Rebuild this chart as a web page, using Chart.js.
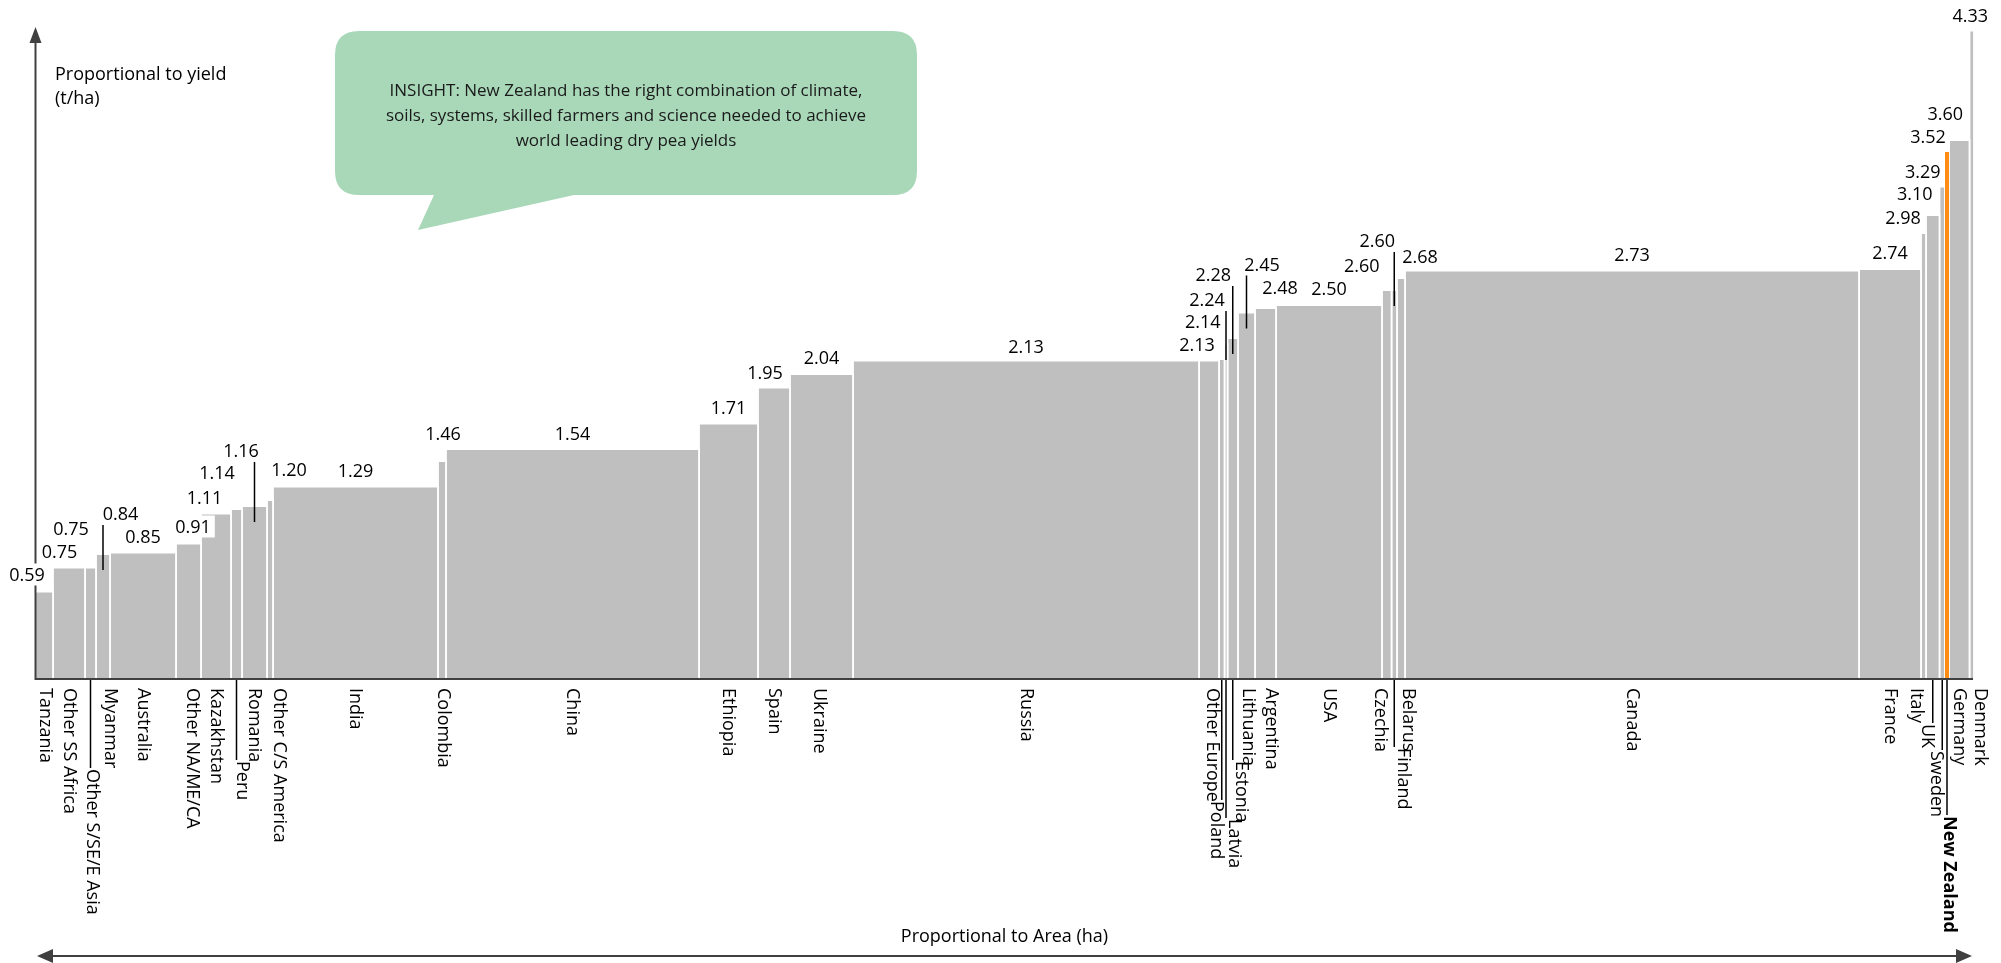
<!DOCTYPE html>
<html>
<head>
<meta charset="utf-8">
<script src="https://cdn.jsdelivr.net/npm/chart.js@4.4.1/dist/chart.umd.min.js"></script>
<style>
  html, body { margin: 0; padding: 0; background: #fff; }
  canvas { display: block; }
</style>
</head>
<body>
<canvas id="pea_chart" width="2001" height="963"></canvas>
<script>
// dry pea yield (t/ha) vs relative harvested area, sorted by yield
const countries = ['Tanzania', 'Other SS Africa', 'Other S/SE/E Asia', 'Myanmar', 'Australia', 'Other NA/ME/CA',
    'Kazakhstan', 'Peru', 'Romania', 'Other C/S America', 'India', 'Colombia', 'China', 'Ethiopia', 'Spain',
    'Ukraine', 'Russia', 'Other Europe', 'Poland', 'Latvia', 'Estonia', 'Lithuania', 'Argentina', 'USA',
    'Czechia', 'Finland', 'Belarus', 'Canada', 'France', 'Italy', 'UK', 'Sweden', 'New Zealand', 'Germany', 'Denmark'];
const yields = [0.59, 0.75, 0.75, 0.84, 0.85, 0.91, 1.11, 1.14, 1.16, 1.20, 1.29, 1.46, 1.54, 1.71, 1.95,
    2.04, 2.13, 2.13, 2.14, 2.24, 2.28, 2.45, 2.48, 2.50, 2.60, 2.60, 2.68, 2.73, 2.74, 2.98, 3.10, 3.29, 3.52, 3.60, 4.33];
const areas = [18, 32, 11, 14, 66, 25, 30, 11, 25, 6, 165, 8, 253, 59, 32, 63, 346, 20, 5.5, 3, 10.5, 17, 21, 106,
    9.5, 5.5, 8, 454, 62, 5, 13.5, 5.5, 4, 20.5, 4.5];
const highlight = 'New Zealand';

const yTitle = ['Proportional to yield', '(t/ha)'];
const xTitle = 'Proportional to Area (ha)';
const insight = ['INSIGHT: New Zealand has the right combination of climate,',
    'soils, systems, skilled farmers and science needed to achieve',
    'world leading dry pea yields'];

const FONT = '"Open Sans", Lato, sans-serif';
const GREY = '#bfbfbf';
const ORANGE = '#ff8c14';
const AXIS = '#404040';

// label placement tweaks (px): value labels [dx, dy, leader], country labels [dx, drop]
const valuePos = {
    'Tanzania': [-17, -17], 'Other SS Africa': [-9.5, -16], 'Other S/SE/E Asia': [-19.5, -39],
    'Myanmar': [17.5, -40, true], 'Other NA/ME/CA': [4.5, -17], 'Kazakhstan': [-11.5, -16],
    'Peru': [-19.5, -36], 'Romania': [-13.5, -55, true], 'Other C/S America': [19, -30],
    'Colombia': [1, -27], 'China': [0, -15], 'Spain': [-9, -15], 'Russia': [0, -14],
    'Other Europe': [-12, -16], 'Poland': [-19, -37], 'Latvia': [-19, -44, true],
    'Estonia': [-19.5, -63, true], 'Lithuania': [15.5, -48, true], 'Argentina': [14.5, -20],
    'Czechia': [-25, -24], 'Finland': [-17, -49, true], 'Belarus': [19, -21],
    'Italy': [-20.5, -15], 'UK': [-18, -21], 'Sweden': [-19.5, -15], 'New Zealand': [-19, -15],
    'Germany': [-14, -26], 'Denmark': [-1.5, -15]
};
const namePos = {
    'Tanzania': [1.5], 'Other S/SE/E Asia': [2, 88], 'Myanmar': [7], 'Other NA/ME/CA': [3.5],
    'Peru': [6, 80], 'Other C/S America': [9], 'Colombia': [1.5], 'Ukraine': [-2], 'Other Europe': [3],
    'Poland': [-6, 120], 'Latvia': [8, 138], 'Estonia': [8, 80], 'Lithuania': [2], 'Argentina': [6],
    'Czechia': [-7], 'Finland': [9, 67], 'Belarus': [7], 'Italy': [-7], 'UK': [-6, 43],
    'Sweden': [-6, 70], 'New Zealand': [2, 135], 'Denmark': [8]
};

let starts = [];
let total = 0;
for (const a of areas) {
    starts.push(total);
    total += a;
}

const datasets = countries.map((name, i) => {
    const x0 = starts[i];
    const x1 = starts[i] + areas[i];
    const isHi = name === highlight;
    return {
        label: name,
        data: [{x: x0, y: 0}, {x: x0, y: yields[i]}, {x: x1, y: yields[i]}, {x: x1, y: 0}],
        fill: 'origin',
        backgroundColor: isHi ? ORANGE : GREY,
        borderColor: '#ffffff',
        borderWidth: isHi ? 0 : 1.8,
        pointRadius: 0,
        tension: 0,
        order: isHi ? -1 : 0
    };
});

function arrowHead(ctx, x, y, dx, dy, len, half) {
    // triangle pointing in direction (dx, dy)
    ctx.beginPath();
    ctx.moveTo(x, y);
    ctx.lineTo(x - dx * len - dy * half, y - dy * len + dx * half);
    ctx.lineTo(x - dx * len + dy * half, y - dy * len - dx * half);
    ctx.closePath();
    ctx.fill();
}

const annotations = {
    id: 'annotations',
    afterDatasetsDraw(chart) {
        const ctx = chart.ctx;
        const xs = chart.scales.x;
        const ys = chart.scales.y;
        const base = ys.getPixelForValue(0);
        const left = chart.chartArea.left;
        const right = chart.chartArea.right;
        ctx.save();

        // axes
        ctx.strokeStyle = AXIS;
        ctx.fillStyle = AXIS;
        ctx.lineWidth = 2;
        ctx.beginPath();
        ctx.moveTo(left, base - 1);
        ctx.lineTo(right - 1, base - 1);
        ctx.moveTo(left + 0.5, base);
        ctx.lineTo(left + 0.5, 40);
        ctx.stroke();
        arrowHead(ctx, left + 0.5, 27, 0, -1, 16, 6);

        // value labels
        ctx.font = '18px ' + FONT;
        ctx.textAlign = 'center';
        ctx.textBaseline = 'middle';
        countries.forEach((name, i) => {
            const x0 = xs.getPixelForValue(starts[i]);
            const x1 = xs.getPixelForValue(starts[i] + areas[i]);
            const cx = (x0 + x1) / 2;
            const top = ys.getPixelForValue(yields[i]);
            const p = valuePos[name] || [0, -16];
            const lx = cx + p[0];
            const ly = top + p[1];
            const txt = yields[i].toFixed(2);
            const w = ctx.measureText(txt).width;
            ctx.fillStyle = '#ffffff';
            ctx.fillRect(lx - w / 2 - 4, ly - 11, w + 8, 22);
            ctx.fillStyle = '#000000';
            ctx.fillText(txt, lx, ly + 1);
            if (p[2]) {
                ctx.strokeStyle = '#000000';
                ctx.lineWidth = 1.5;
                ctx.beginPath();
                ctx.moveTo(cx, ly + 11);
                ctx.lineTo(cx, top + 16);
                ctx.stroke();
            }
        });

        // country labels, rotated to read downwards
        countries.forEach((name, i) => {
            const x0 = xs.getPixelForValue(starts[i]);
            const x1 = xs.getPixelForValue(starts[i] + areas[i]);
            const cx = (x0 + x1) / 2;
            const p = namePos[name] || [0];
            let ystart = base + 8;
            if (p[1]) {
                ctx.strokeStyle = '#000000';
                ctx.lineWidth = 1.5;
                ctx.beginPath();
                ctx.moveTo(cx, base);
                ctx.lineTo(cx, base + p[1]);
                ctx.stroke();
                ystart = base + p[1] + 1;
            }
            ctx.save();
            ctx.translate(cx + p[0], ystart);
            ctx.rotate(Math.PI / 2);
            ctx.font = (name === highlight ? 'bold ' : '') + '18px ' + FONT;
            ctx.fillStyle = '#000000';
            ctx.textAlign = 'left';
            ctx.textBaseline = 'middle';
            ctx.fillText(name, 0, 0);
            ctx.restore();
        });

        // area double arrow and title
        const ay = 956;
        ctx.strokeStyle = AXIS;
        ctx.fillStyle = AXIS;
        ctx.lineWidth = 2;
        ctx.beginPath();
        ctx.moveTo(left + 12, ay);
        ctx.lineTo(right - 12, ay);
        ctx.stroke();
        arrowHead(ctx, left + 2, ay, -1, 0, 16, 7);
        arrowHead(ctx, right - 2, ay, 1, 0, 16, 7);
        ctx.fillStyle = '#000000';
        ctx.font = '18px ' + FONT;
        ctx.textAlign = 'center';
        ctx.textBaseline = 'middle';
        ctx.fillText(xTitle, (left + right) / 2, 937);

        // yield title
        ctx.textAlign = 'left';
        ctx.font = '18px ' + FONT;
        ctx.fillText(yTitle[0], 55, 75);
        ctx.fillText(yTitle[1], 55, 99);

        // insight callout
        const bx = 335, by = 31, bw = 582, bh = 164, r = 24;
        ctx.fillStyle = '#a9d8b9';
        ctx.beginPath();
        ctx.moveTo(bx + r, by);
        ctx.lineTo(bx + bw - r, by);
        ctx.quadraticCurveTo(bx + bw, by, bx + bw, by + r);
        ctx.lineTo(bx + bw, by + bh - r);
        ctx.quadraticCurveTo(bx + bw, by + bh, bx + bw - r, by + bh);
        ctx.lineTo(574, by + bh);
        ctx.lineTo(418, 230);
        ctx.lineTo(434, by + bh);
        ctx.lineTo(bx + r, by + bh);
        ctx.quadraticCurveTo(bx, by + bh, bx, by + bh - r);
        ctx.lineTo(bx, by + r);
        ctx.quadraticCurveTo(bx, by, bx + r, by);
        ctx.closePath();
        ctx.fill();
        ctx.fillStyle = '#1a1a1a';
        ctx.font = '17px ' + FONT;
        ctx.textAlign = 'center';
        insight.forEach((line, k) => {
            ctx.fillText(line, bx + bw / 2, 91 + k * 25);
        });

        ctx.restore();
    }
};

new Chart(document.getElementById('pea_chart'), {
    type: 'line',
    data: { datasets: datasets },
    options: {
        responsive: false,
        animation: false,
        events: [],
        layout: { padding: { left: 35, right: 27, top: 5, bottom: 283 } },
        scales: {
            x: { type: 'linear', min: 0, max: total, display: false },
            y: { min: 0, max: 4.5, display: false }
        },
        plugins: {
            legend: { display: false },
            tooltip: { enabled: false }
        }
    },
    plugins: [annotations]
});
</script>
</body>
</html>
